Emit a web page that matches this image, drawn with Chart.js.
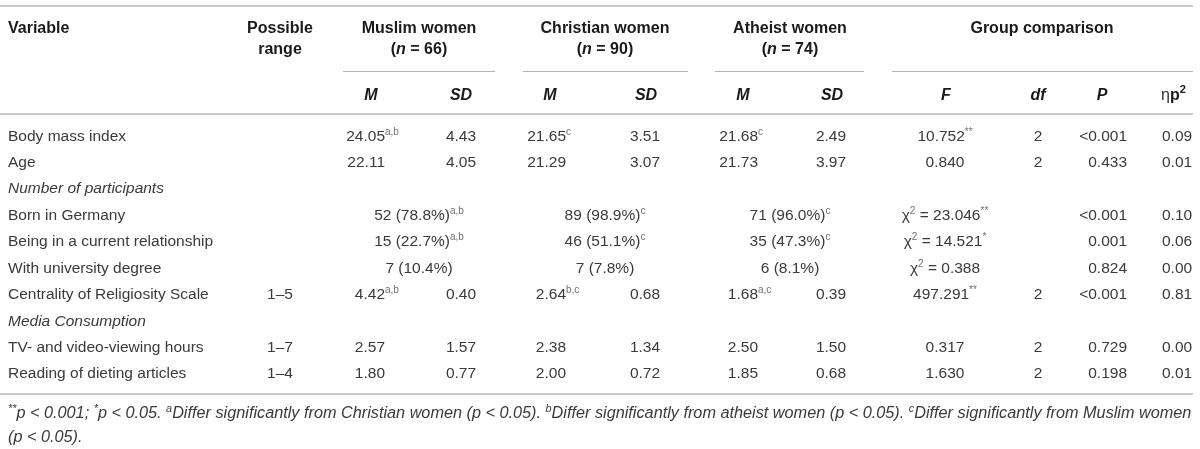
<!DOCTYPE html>
<html>
<head>
<meta charset="utf-8">
<script src="https://cdn.jsdelivr.net/npm/chart.js@4.4.1/dist/chart.umd.min.js"></script>
<style>
html, body { margin: 0; padding: 0; background: #fff; }
#wrap { width: 1200px; height: 449px; position: relative; }
</style>
</head>
<body>
<div id="wrap"><canvas id="tbl"></canvas></div>
<script>
// Table values, one entry per row (null = empty cell, '^' switches superscript on/off)
const rows = ['Body mass index', 'Age', 'Number of participants', 'Born in Germany',
    'Being in a current relationship', 'With university degree', 'Centrality of Religiosity Scale',
    'Media Consumption', 'TV- and video-viewing hours', 'Reading of dieting articles'];
const sectionRows = ['Number of participants', 'Media Consumption'];

const possibleRange = [null, null, null, null, null, null, '1–5', null, '1–7', '1–4'];
const muslimM = ['24.05^a,b', '22.11', null, null, null, null, '4.42^a,b', null, '2.57', '1.80'];
const muslimSD = ['4.43', '4.05', null, null, null, null, '0.40', null, '1.57', '0.77'];
const christianM = ['21.65^c', '21.29', null, null, null, null, '2.64^b,c', null, '2.38', '2.00'];
const christianSD = ['3.51', '3.07', null, null, null, null, '0.68', null, '1.34', '0.72'];
const atheistM = ['21.68^c', '21.73', null, null, null, null, '1.68^a,c', null, '2.50', '1.85'];
const atheistSD = ['2.49', '3.97', null, null, null, null, '0.39', null, '1.50', '0.68'];
const muslimN = [null, null, null, '52 (78.8%)^a,b', '15 (22.7%)^a,b', '7 (10.4%)', null, null, null, null];
const christianN = [null, null, null, '89 (98.9%)^c', '46 (51.1%)^c', '7 (7.8%)', null, null, null, null];
const atheistN = [null, null, null, '71 (96.0%)^c', '35 (47.3%)^c', '6 (8.1%)', null, null, null, null];
const fValues = ['10.752^**', '0.840', null, 'χ^2^ = 23.046^**', 'χ^2^ = 14.521^*', 'χ^2^ = 0.388',
    '497.291^**', null, '0.317', '1.630'];
const dfValues = ['2', '2', null, null, null, null, '2', null, '2', '2'];
const pValues = ['<0.001', '0.433', null, '<0.001', '0.001', '0.824', '<0.001', null, '0.729', '0.198'];
const etaValues = ['0.09', '0.01', null, '0.10', '0.06', '0.00', '0.81', null, '0.00', '0.01'];

// where each column sits (pixels on the x scale) and how it is aligned
const columns = [
    { vals: possibleRange, x: 280, align: 'center' },
    { vals: muslimM, x: 385, align: 'main-right' },
    { vals: muslimSD, x: 461, align: 'center' },
    { vals: christianM, x: 566, align: 'main-right' },
    { vals: christianSD, x: 645, align: 'center' },
    { vals: atheistM, x: 758, align: 'main-right' },
    { vals: atheistSD, x: 831, align: 'center' },
    { vals: muslimN, x: 419, align: 'center' },
    { vals: christianN, x: 605, align: 'center' },
    { vals: atheistN, x: 790, align: 'center' },
    { vals: fValues, x: 945, align: 'center' },
    { vals: dfValues, x: 1038, align: 'center' },
    { vals: pValues, x: 1127, align: 'right' },
    { vals: etaValues, x: 1162, align: 'left' }
];

const FAM = '"Liberation Sans", Arial, Helvetica, sans-serif';
const bodyFont = { font: '15.5px ' + FAM, color: '#3a3a3a' };
const supFont = { font: '10px ' + FAM, color: '#707070' };
const TEXT_DY = 5.5;   // row centre -> baseline

function drawRich(ctx, str, x, y, align, base, sup) {
    const parts = str.split('^');
    const widths = parts.map((p, k) => {
        ctx.font = k % 2 ? sup.font : base.font;
        return ctx.measureText(p).width;
    });
    const total = widths.reduce((a, b) => a + b, 0);
    let cx = x;
    if (align === 'center') cx = x - total / 2;
    else if (align === 'right') cx = x - total;
    else if (align === 'main-right') cx = x - widths[0];
    parts.forEach((p, k) => {
        ctx.font = k % 2 ? sup.font : base.font;
        ctx.fillStyle = k % 2 ? sup.color : base.color;
        ctx.fillText(p, cx, k % 2 ? y - 6 : y);
        cx += widths[k];
    });
}

// segments: [text, font, color, dy]
function drawSegs(ctx, segs, x, y, align) {
    let total = 0;
    segs.forEach(s => { ctx.font = s[1]; total += ctx.measureText(s[0]).width; });
    let cx = align === 'center' ? x - total / 2 : x;
    segs.forEach(s => {
        ctx.font = s[1];
        ctx.fillStyle = s[2] || '#1a1a1a';
        ctx.fillText(s[0], cx, y + (s[3] || 0));
        cx += ctx.measureText(s[0]).width;
    });
}

function hline(ctx, x1, x2, y, w, color) {
    ctx.beginPath();
    ctx.strokeStyle = color;
    ctx.lineWidth = w;
    ctx.moveTo(x1, y);
    ctx.lineTo(x2, y);
    ctx.stroke();
}

const tablePlugin = {
    id: 'tableText',
    afterDatasetsDraw(chart) {
        const ctx = chart.ctx;
        const yScale = chart.scales.y;
        ctx.save();
        ctx.textBaseline = 'alphabetic';
        ctx.textAlign = 'left';

        // rules
        hline(ctx, 0, 1193, 6, 2, '#c9c9c9');
        hline(ctx, 0, 1193, 114, 2, '#c9c9c9');
        hline(ctx, 0, 1193, 394, 2, '#c9c9c9');
        [[343, 495], [523, 688], [715, 864], [892, 1193]].forEach(g => hline(ctx, g[0], g[1], 71.5, 1, '#b5b5b5'));

        // header
        const B = 'bold 16px ' + FAM;
        const BI = 'italic bold 16px ' + FAM;
        const y1 = 27 + 5.8, y2 = 48 + 5.8, y3 = 94 + 5.8;
        drawSegs(ctx, [['Variable', B]], 8, y1, 'left');
        drawSegs(ctx, [['Possible', B]], 280, y1, 'center');
        drawSegs(ctx, [['range', B]], 280, y2, 'center');
        [['Muslim women', '66', 419], ['Christian women', '90', 605], ['Atheist women', '74', 790]].forEach(h => {
            drawSegs(ctx, [[h[0], B]], h[2], y1, 'center');
            drawSegs(ctx, [['(', B], ['n', BI], [' = ' + h[1] + ')', B]], h[2], y2, 'center');
        });
        drawSegs(ctx, [['Group comparison', B]], 1042, y1, 'center');
        [[371, 'M'], [461, 'SD'], [550, 'M'], [646, 'SD'], [743, 'M'], [832, 'SD'],
         [946, 'F'], [1038, 'df'], [1102, 'P']].forEach(h => drawSegs(ctx, [[h[1], BI]], h[0], y3, 'center'));
        drawSegs(ctx, [['η', '16px ' + FAM, '#333'], ['p', B], ['2', 'bold 11px ' + FAM, '#1a1a1a', -7]], 1161, y3, 'left');

        // row labels
        rows.forEach((r, i) => {
            ctx.font = (sectionRows.includes(r) ? 'italic ' : '') + bodyFont.font;
            ctx.fillStyle = bodyFont.color;
            ctx.fillText(r, 8, yScale.getPixelForValue(i) + TEXT_DY);
        });

        // cells, placed at each point the library laid out
        chart.data.datasets.forEach((ds, di) => {
            const meta = chart.getDatasetMeta(di);
            meta.data.forEach((el, j) => {
                drawRich(ctx, ds.data[j].t, el.x, el.y + TEXT_DY, ds.cellAlign, bodyFont, supFont);
            });
        });

        // footnote
        const fs = 15;
        const it = 'italic ' + fs + 'px ' + FAM;
        const sp = 'italic 10px ' + FAM;
        const fc = '#3a3a3a';
        const line1 = [['**', sp, fc, -6], ['p < 0.001; ', it, fc], ['*', sp, fc, -6], ['p < 0.05. ', it, fc],
            ['a', sp, fc, -6], ['Differ significantly from Christian women (p < 0.05). ', it, fc],
            ['b', sp, fc, -6], ['Differ significantly from atheist women (p < 0.05). ', it, fc],
            ['c', sp, fc, -6], ['Differ significantly from Muslim women', it, fc]];
        let w = 0;
        line1.forEach(s => { ctx.font = s[1]; w += ctx.measureText(s[0]).width; });
        const k = 1184 / w;
        const fit = s => [s[0], s[1].replace(/(\d+)px/, (m, n) => (n * k).toFixed(2) + 'px'), s[2], s[3]];
        drawSegs(ctx, line1.map(fit), 8, 418, 'left');
        drawSegs(ctx, [['(p < 0.05).', it, fc]].map(fit), 8, 442, 'left');

        ctx.restore();
    }
};

const datasets = columns.map(col => {
    const pts = [];
    col.vals.forEach((v, i) => {
        if (v !== null) pts.push({ x: col.x, y: rows[i], t: v });
    });
    return { data: pts, cellAlign: col.align, pointRadius: 0, pointHoverRadius: 0, showLine: false };
});

new Chart(document.getElementById('tbl'), {
    type: 'scatter',
    data: { datasets },
    options: {
        responsive: true,
        maintainAspectRatio: false,
        animation: false,
        events: [],
        layout: { padding: { top: 121.8, bottom: 62.8, left: 0, right: 0 } },
        plugins: { legend: { display: false }, tooltip: { enabled: false } },
        scales: {
            x: { type: 'linear', min: 0, max: 1200, display: false },
            y: { type: 'category', labels: rows, offset: true, display: false }
        }
    },
    plugins: [tablePlugin]
});
</script>
</body>
</html>
